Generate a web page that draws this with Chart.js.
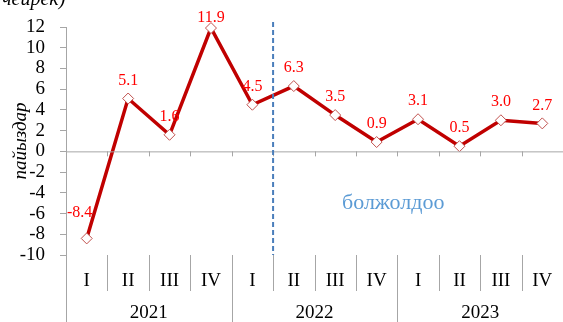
<!DOCTYPE html>
<html>
<head>
<meta charset="utf-8">
<script src="https://cdn.jsdelivr.net/npm/chart.js@4"></script>
<style>
  body { margin: 0; background: #fff; }
  #wrap { width: 563px; height: 322px; }
</style>
</head>
<body>
<div id="wrap"><canvas id="growthChart"></canvas></div>
<script>
const quarters = ["I", "II", "III", "IV", "I", "II", "III", "IV", "I", "II", "III", "IV"];
const years = ["2021", "2022", "2023"];
const growth = [-8.4, 5.1, 1.6, 11.9, 4.5, 6.3, 3.5, 0.9, 3.1, 0.5, 3.0, 2.7];
const forecastFrom = 5; // index of first forecast quarter

const serif = "'Liberation Serif', 'Times New Roman', serif";
const gray = "#a6a6a6";

// axis decorations, year labels, value labels, forecast mark
const decor = {
  id: "decor",
  afterDraw(chart) {
    const { ctx, chartArea, scales } = chart;
    const x = scales.x, y = scales.y;
    const y0 = y.getPixelForValue(0);
    const step = x.getPixelForValue(1) - x.getPixelForValue(0);
    const bottom = chart.height;

    ctx.save();
    ctx.strokeStyle = gray;
    ctx.lineWidth = 1;
    // zero line + small ticks
    ctx.beginPath();
    ctx.moveTo(chartArea.left, y0 + 0.5);
    ctx.lineTo(chartArea.right, y0 + 0.5);
    for (let i = 1; i < quarters.length; i++) {
      const px = Math.round(x.getPixelForValue(i) - step / 2) + 0.5;
      ctx.moveTo(px, y0);
      ctx.lineTo(px, y0 + 5);
    }
    // separators in label area
    ctx.moveTo(chartArea.left + 0.5, chartArea.bottom);
    ctx.lineTo(chartArea.left + 0.5, bottom);
    for (let i = 1; i < quarters.length; i++) {
      const px = Math.round(x.getPixelForValue(i) - step / 2) + 0.5;
      ctx.moveTo(px, chartArea.bottom);
      ctx.lineTo(px, i % 4 === 0 ? bottom : chartArea.bottom + 36);
    }
    ctx.stroke();

    // year labels
    ctx.fillStyle = "#000";
    ctx.font = "19px " + serif;
    ctx.textAlign = "center";
    ctx.textBaseline = "middle";
    years.forEach((yr, k) => {
      const cx = (x.getPixelForValue(k * 4) + x.getPixelForValue(k * 4 + 3)) / 2;
      ctx.fillText(yr, cx, chartArea.bottom + 58);
    });

    // forecast dashed line + text
    const fx = x.getPixelForValue(forecastFrom) - step / 2;
    ctx.strokeStyle = "#4a7ebb";
    ctx.lineWidth = 2;
    ctx.setLineDash([5, 3]);
    ctx.beginPath();
    ctx.moveTo(fx, chartArea.top - 5);
    ctx.lineTo(fx, chartArea.bottom);
    ctx.stroke();
    ctx.setLineDash([]);
    ctx.fillStyle = "#5b9bd5";
    ctx.font = "22px " + serif;
    ctx.fillText("болжолдоо", x.getPixelForValue(7.4), y.getPixelForValue(-5));

    // value labels
    const meta = chart.getDatasetMeta(0);
    ctx.fillStyle = "#ff0000";
    ctx.font = "16px " + serif;
    meta.data.forEach((pt, i) => {
      const v = growth[i];
      let lx = pt.x, ly = Math.max(pt.y - 18, 18);
      if (v < 0) { lx = pt.x - 7; ly = pt.y - 26; }
      ctx.fillText(v.toFixed(1), lx, ly);
    });

    // cut-off caption at the top
    ctx.fillStyle = "#000";
    ctx.font = "italic 20px " + serif;
    ctx.textAlign = "left";
    ctx.textBaseline = "alphabetic";
    ctx.fillText("чейрек)", 2, 5);
    ctx.restore();
  }
};

new Chart(document.getElementById("growthChart"), {
  type: "line",
  data: {
    labels: quarters,
    datasets: [{
      data: growth,
      borderColor: "#c00000",
      borderWidth: 3.5,
      pointStyle: "rectRot",
      pointRadius: 5.5,
      pointBackgroundColor: "#fff",
      pointBorderColor: "#c0504d",
      pointBorderWidth: 1,
      tension: 0,
      clip: false
    }]
  },
  options: {
    responsive: true,
    maintainAspectRatio: false,
    animation: false,
    layout: { autoPadding: false, padding: { top: 27, right: 0, left: 0, bottom: 0 } },
    plugins: { legend: { display: false }, tooltip: { enabled: false } },
    scales: {
      x: {
        offset: true,
        grid: { display: false, drawTicks: false, offset: true },
        border: { display: false },
        ticks: { color: "#000", font: { family: serif, size: 19 }, padding: 15, maxRotation: 0, autoSkip: false },
        afterFit(scale) {
          scale.height = 67;
          scale.paddingLeft = 0;
          scale.paddingRight = 0;
        }
      },
      y: {
        min: -10,
        max: 12,
        ticks: { stepSize: 2, autoSkip: false, color: "#000", font: { family: serif, size: 19 }, padding: 15 },
        grid: { drawOnChartArea: false, tickLength: 6, color: gray },
        border: { color: gray },
        title: {
          display: true,
          text: "пайыздар",
          color: "#000",
          font: { family: serif, size: 19, style: "italic" },
          padding: { top: 10, bottom: 0 }
        },
        afterFit(scale) { scale.width = 66; }
      }
    }
  },
  plugins: [decor]
});
</script>
</body>
</html>
